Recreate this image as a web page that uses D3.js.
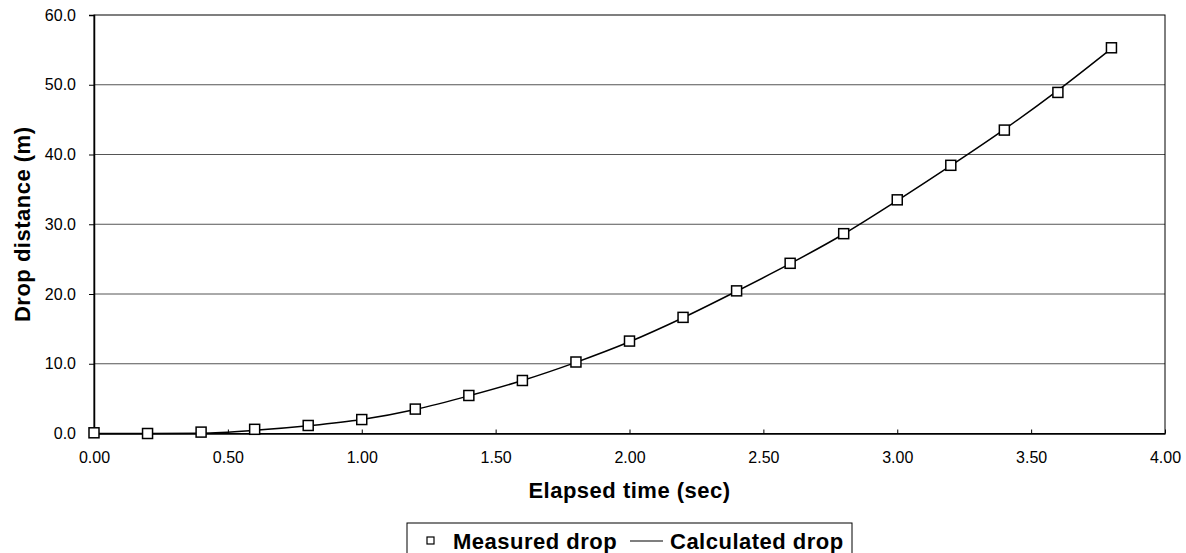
<!DOCTYPE html>
<html>
<head>
<meta charset="utf-8">
<script src="https://cdn.jsdelivr.net/npm/d3@7"></script>
<style>
  body { margin: 0; background: #fff; }
  svg { display: block; font-family: "Liberation Sans", Arial, sans-serif; }
</style>
</head>
<body>
<svg id="chart" width="1186" height="553"></svg>
<script>
// elapsed time (sec)
const times = [0.0, 0.2, 0.4, 0.6, 0.8, 1.0, 1.2, 1.4, 1.6, 1.8, 2.0, 2.2, 2.4, 2.6, 2.8, 3.0, 3.2, 3.4, 3.6, 3.8];
// measured drop (m)
const measured = [0.1, 0.0, 0.2, 0.6, 1.15, 2.0, 3.5, 5.45, 7.6, 10.25, 13.25, 16.65, 20.45, 24.4, 28.65, 33.5, 38.45, 43.5, 48.9, 55.3];
// calculated drop (m)
const calculated = [0.0, 0.0, 0.05, 0.45, 1.1, 2.0, 3.45, 5.4, 7.6, 10.2, 13.15, 16.6, 20.4, 24.35, 28.6, 33.4, 38.4, 43.6, 49.2, 55.2];

const xTicks = [0, 0.5, 1, 1.5, 2, 2.5, 3, 3.5, 4];
const yTicks = [0, 10, 20, 30, 40, 50, 60];

const svg = d3.select("#chart");
const margin = { top: 15, left: 94, right: 21, bottom: 120 };
const width = 1186 - margin.left - margin.right,
      height = 553 - margin.top - margin.bottom + 0.5;

const g = svg.append("g")
  .attr("transform", `translate(${margin.left},${margin.top})`);

const x = d3.scaleLinear().domain([0, 4]).range([0, width]);
const y = d3.scaleLinear().domain([0, 60]).range([height, 0]);

// gridlines
g.append("g")
  .selectAll("line")
  .data(yTicks.filter(d => d > 0 && d < 60))
  .join("line")
  .attr("x1", 0).attr("x2", width)
  .attr("y1", d => y(d)).attr("y2", d => y(d))
  .attr("stroke", "#555")
  .attr("stroke-width", 1);

// frame
g.append("rect")
  .attr("x", 0).attr("y", 0)
  .attr("width", width).attr("height", height)
  .attr("fill", "none")
  .attr("stroke", "#000")
  .attr("stroke-width", 1);

// y axis, ticks outside
const yAxis = g.append("g")
  .call(d3.axisLeft(y).tickValues(yTicks).tickSize(5).tickPadding(13).tickFormat(d3.format(".1f")));
yAxis.select(".domain").attr("stroke-width", 1.5);
yAxis.selectAll("text").attr("font-size", "16px").attr("fill", "#000")
  .attr("font-family", "Liberation Sans, Arial, sans-serif");

// x axis, ticks inside
const xAxis = g.append("g")
  .attr("transform", `translate(0,${height})`)
  .call(d3.axisBottom(x).tickValues(xTicks).tickSizeInner(-4).tickSizeOuter(0).tickPadding(18).tickFormat(d3.format(".2f")));
xAxis.select(".domain").attr("stroke-width", 1.5);
xAxis.selectAll("text").attr("font-size", "16px").attr("fill", "#000")
  .attr("font-family", "Liberation Sans, Arial, sans-serif");

// axis titles
svg.append("text")
  .attr("x", margin.left + width / 2)
  .attr("y", 498)
  .attr("text-anchor", "middle")
  .attr("font-size", "22px")
  .attr("font-weight", "bold")
  .attr("letter-spacing", "0.5px")
  .text("Elapsed time (sec)");

svg.append("text")
  .attr("transform", `translate(30,${margin.top + height / 2}) rotate(-90)`)
  .attr("text-anchor", "middle")
  .attr("font-size", "22px")
  .attr("font-weight", "bold")
  .attr("letter-spacing", "0.5px")
  .text("Drop distance (m)");

// calculated line
const calcData = times.map((t, i) => ({ t, v: calculated[i] }));
g.append("path")
  .datum(calcData)
  .attr("fill", "none")
  .attr("stroke", "#000")
  .attr("stroke-width", 1.5)
  .attr("d", d3.line().x(d => x(d.t)).y(d => y(d.v)).curve(d3.curveMonotoneX));

// measured markers
const measData = times.map((t, i) => ({ t, v: measured[i] }));
g.append("g")
  .selectAll("rect")
  .data(measData)
  .join("rect")
  .attr("x", d => x(d.t) - 5)
  .attr("y", d => y(d.v) - 5)
  .attr("width", 10)
  .attr("height", 10)
  .attr("fill", "#fff")
  .attr("stroke", "#000")
  .attr("stroke-width", 1.5);

// legend
const lg = svg.append("g");
lg.append("rect")
  .attr("x", 407).attr("y", 523)
  .attr("width", 445).attr("height", 40)
  .attr("fill", "#fff")
  .attr("stroke", "#000")
  .attr("stroke-width", 1);
lg.append("rect")
  .attr("x", 427).attr("y", 537)
  .attr("width", 7).attr("height", 7)
  .attr("fill", "#fff")
  .attr("stroke", "#000")
  .attr("stroke-width", 1.2);
lg.append("text")
  .attr("x", 453).attr("y", 548.5)
  .attr("font-size", "22px").attr("font-weight", "bold")
  .attr("letter-spacing", "0.5px")
  .text("Measured drop");
lg.append("line")
  .attr("x1", 630).attr("x2", 663)
  .attr("y1", 541).attr("y2", 541)
  .attr("stroke", "#000").attr("stroke-width", 1.2);
lg.append("text")
  .attr("x", 670).attr("y", 548.5)
  .attr("font-size", "22px").attr("font-weight", "bold")
  .attr("letter-spacing", "0.5px")
  .text("Calculated drop");
</script>
</body>
</html>
